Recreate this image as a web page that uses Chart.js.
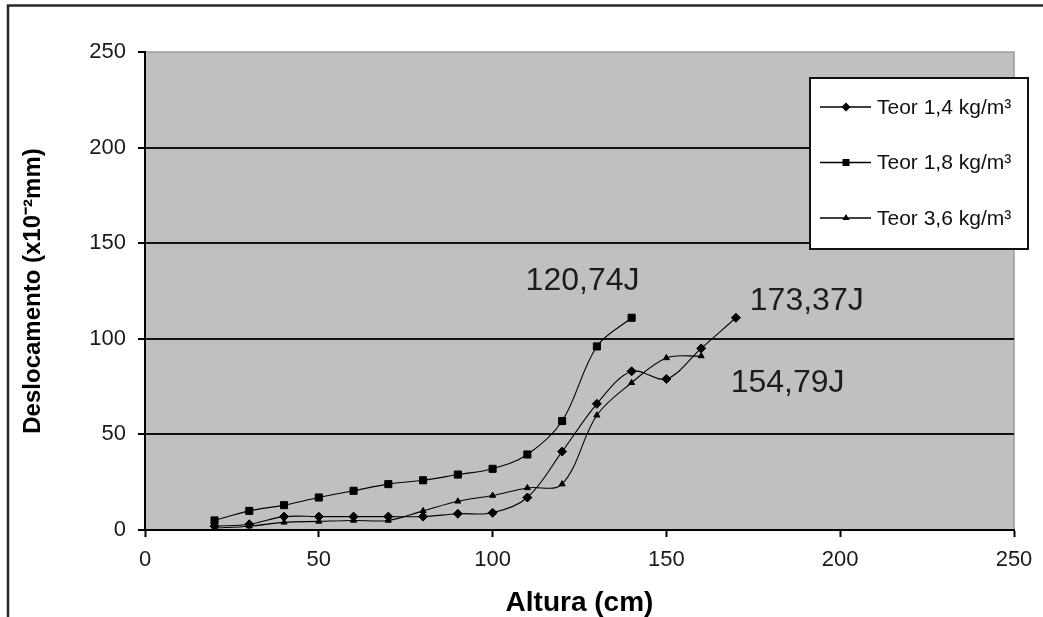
<!DOCTYPE html>
<html>
<head>
<meta charset="utf-8">
<script src="https://cdn.jsdelivr.net/npm/chart.js@4/dist/chart.umd.min.js"></script>
<style>
  html, body { margin: 0; padding: 0; background: #fff; }
  #wrap { width: 1043px; height: 617px; position: relative; }
</style>
</head>
<body>
<div id="wrap"><canvas id="c" width="1043" height="617"></canvas></div>
<script>
// Drop height (cm) for each test series
const alturaTeor14 = [20, 30, 40, 50, 60, 70, 80, 90, 100, 110, 120, 130, 140, 150, 160, 170];
const alturaTeor18 = [20, 30, 40, 50, 60, 70, 80, 90, 100, 110, 120, 130, 140];
const alturaTeor36 = [20, 30, 40, 50, 60, 70, 80, 90, 100, 110, 120, 130, 140, 150, 160];

// Measured displacement (x10^-2 mm)
const deslTeor14 = [2, 3, 7, 7, 7, 7, 7, 8.5, 9, 17, 41, 66, 83, 79, 95, 111];
const deslTeor18 = [5, 10, 13, 17, 20.5, 24, 26, 29, 32, 39.5, 57, 96, 111];
const deslTeor36 = [1, 2, 4, 4.5, 5, 5, 10, 15, 18, 22, 24, 60, 77, 90, 91];

const seriesNames = ['Teor 1,4 kg/m³', 'Teor 1,8 kg/m³', 'Teor 3,6 kg/m³'];

// Energy notes written next to the curve ends (x, y in axis units)
const energyText = ['120,74J', '173,37J', '154,79J'];
const energyX = [109.5, 174, 168.5];
const energyY = [125.5, 115, 72];

const axisTicks = [0, 50, 100, 150, 200, 250];

const FONT = "'Liberation Sans', Arial, sans-serif";

function toPoints(xs, ys) {
  return xs.map((x, i) => ({ x: x, y: ys[i] }));
}

const markerStyles = [
  { pointStyle: 'rectRot', radius: 4.5 },
  { pointStyle: 'rect', radius: 5 },
  { pointStyle: 'triangle', radius: 3.5 }
];

const seriesData = [
  toPoints(alturaTeor14, deslTeor14),
  toPoints(alturaTeor18, deslTeor18),
  toPoints(alturaTeor36, deslTeor36)
];

const datasets = seriesData.map((d, i) => ({
  label: seriesNames[i],
  data: d,
  borderColor: '#000',
  borderWidth: 1.1,
  backgroundColor: '#000',
  pointStyle: markerStyles[i].pointStyle,
  pointRadius: markerStyles[i].radius,
  pointBackgroundColor: '#000',
  pointBorderColor: '#000',
  pointBorderWidth: 1,
  tension: 0.35,
  fill: false
}));

// Outer frame and grey plot area
const backdrop = {
  id: 'backdrop',
  beforeDraw(chart) {
    const { ctx, chartArea: a } = chart;
    ctx.save();
    ctx.fillStyle = '#fff';
    ctx.fillRect(0, 0, chart.width, chart.height);
    ctx.strokeStyle = '#2a2a2a';
    ctx.lineWidth = 2.5;
    ctx.beginPath();
    ctx.moveTo(8, chart.height + 5);
    ctx.lineTo(8, 5.5);
    ctx.lineTo(chart.width + 5, 5.5);
    ctx.stroke();
    ctx.fillStyle = '#c0c0c0';
    ctx.fillRect(a.left, a.top, a.right - a.left, a.bottom - a.top);
    ctx.strokeStyle = '#9c9c9c';
    ctx.lineWidth = 1.5;
    ctx.strokeRect(a.left, a.top, a.right - a.left, a.bottom - a.top);
    ctx.restore();
  }
};

// Energy notes beside the curves
const energyNotes = {
  id: 'energyNotes',
  afterDatasetsDraw(chart) {
    const { ctx, scales: { x, y } } = chart;
    ctx.save();
    ctx.font = '32px ' + FONT;
    ctx.fillStyle = '#1c1c1c';
    ctx.textAlign = 'left';
    ctx.textBaseline = 'alphabetic';
    energyText.forEach((t, i) => {
      ctx.fillText(t, x.getPixelForValue(energyX[i]), y.getPixelForValue(energyY[i]));
    });
    ctx.restore();
  }
};

// Boxed legend inside the plot, top right
const boxLegend = {
  id: 'boxLegend',
  afterDraw(chart) {
    const { ctx, chartArea: a } = chart;
    const left = a.right - 204, top = a.top + 26, w = 218, h = 171;
    ctx.save();
    ctx.fillStyle = '#fff';
    ctx.fillRect(left, top, w, h);
    ctx.strokeStyle = '#111';
    ctx.lineWidth = 2;
    ctx.strokeRect(left, top, w, h);
    ctx.font = '21px ' + FONT;
    ctx.textBaseline = 'middle';
    ctx.textAlign = 'left';
    chart.data.datasets.forEach((ds, i) => {
      const cy = top + 29 + i * 55.5;
      ctx.strokeStyle = '#000';
      ctx.lineWidth = 1.3;
      ctx.beginPath();
      ctx.moveTo(left + 10, cy);
      ctx.lineTo(left + 61, cy);
      ctx.stroke();
      Chart.helpers.drawPoint(ctx, {
        pointStyle: ds.pointStyle,
        radius: ds.pointRadius * 0.8,
        borderWidth: 1,
        rotation: 0
      }, left + 36, cy);
      ctx.fillStyle = '#000';
      ctx.fill();
      ctx.fillStyle = '#111';
      ctx.fillText(ds.label, left + 67, cy + 1);
    });
    ctx.restore();
  }
};

const chart = new Chart(document.getElementById('c'), {
  type: 'line',
  data: { datasets: datasets },
  plugins: [backdrop, energyNotes, boxLegend],
  options: {
    responsive: false,
    animation: false,
    devicePixelRatio: 1,
    layout: { padding: { left: 10, top: 52, right: 29, bottom: 0 } },
    plugins: {
      legend: { display: false },
      tooltip: { enabled: false }
    },
    elements: { line: { cubicInterpolationMode: 'default' } },
    scales: {
      x: {
        type: 'linear',
        min: 0,
        max: 250,
        afterFit(scale) { scale.height = 87; },
        afterBuildTicks(scale) { scale.ticks = axisTicks.map(v => ({ value: v })); },
        grid: {
          drawOnChartArea: false,
          drawTicks: true,
          tickLength: 7,
          tickColor: '#000',
          tickWidth: 2
        },
        border: { display: true, color: '#000', width: 2 },
        ticks: {
          font: { family: FONT, size: 22 },
          color: '#1a1a1a',
          padding: 10,
          maxRotation: 0
        },
        title: {
          display: true,
          text: 'Altura (cm)',
          font: { family: FONT, size: 28, weight: 'bold', lineHeight: 1 },
          color: '#000',
          padding: { top: 0, bottom: 0 }
        }
      },
      y: {
        type: 'linear',
        min: 0,
        max: 250,
        afterFit(scale) { scale.width = 135; },
        afterBuildTicks(scale) { scale.ticks = axisTicks.map(v => ({ value: v })); },
        grid: {
          drawOnChartArea: true,
          drawTicks: true,
          tickLength: 7,
          tickColor: '#000',
          tickWidth: 2,
          lineWidth: 2,
          color: (ctx) => (ctx.tick && (ctx.tick.value === 250 || ctx.tick.value === 0)) ? 'rgba(0,0,0,0)' : '#111'
        },
        border: { display: true, color: '#000', width: 2 },
        ticks: {
          font: { family: FONT, size: 22 },
          color: '#1a1a1a',
          padding: 12
        },
        title: {
          display: true,
          text: 'Deslocamento (x10⁻²mm)',
          font: { family: FONT, size: 24, weight: 'bold', lineHeight: 1.2 },
          color: '#000',
          padding: { top: 9, bottom: 0 }
        }
      }
    }
  }
});
</script>
</body>
</html>
